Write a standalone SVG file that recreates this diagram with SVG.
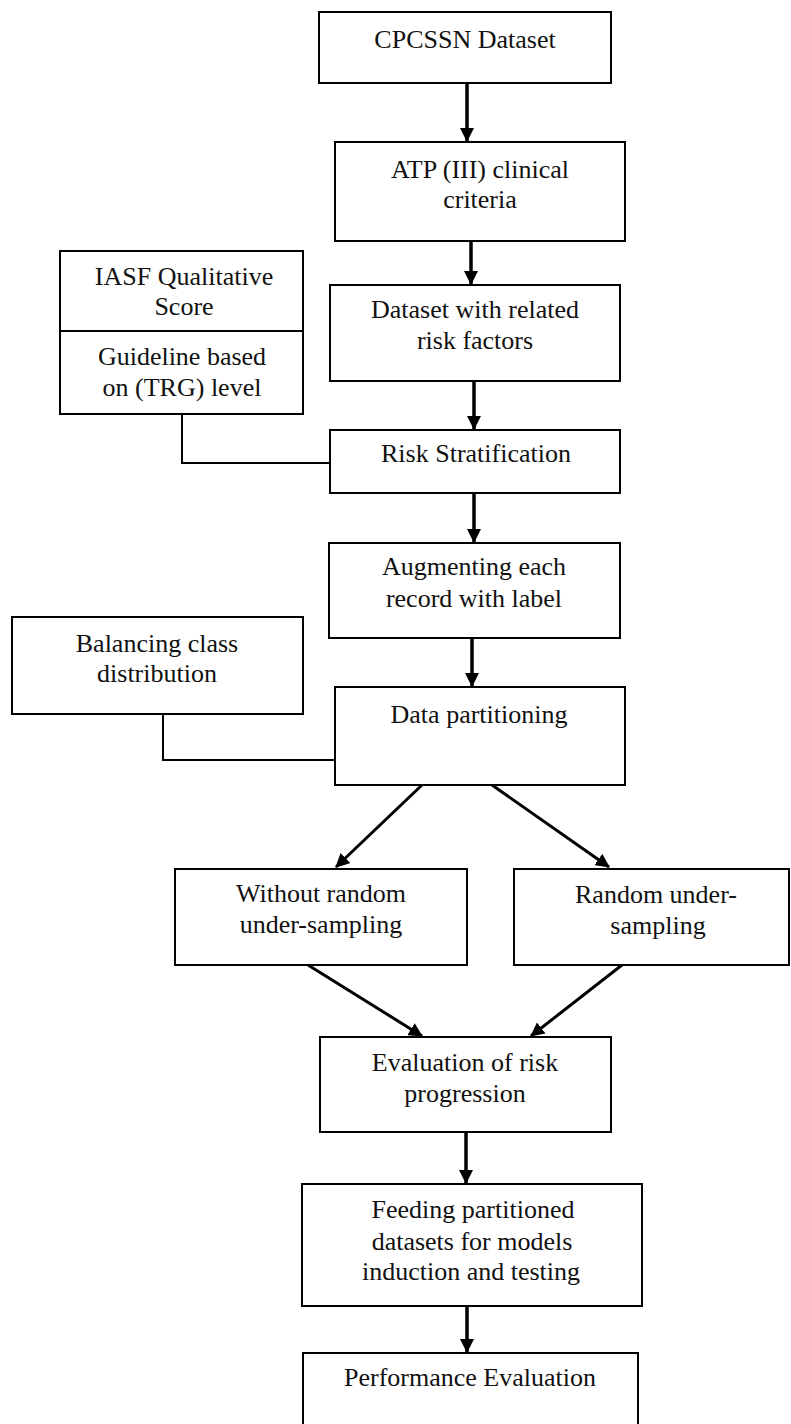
<svg xmlns="http://www.w3.org/2000/svg" width="791" height="1424" viewBox="0 0 791 1424">
<style>
.box{fill:#fff;stroke:#000;stroke-width:2}
.t{font-family:"Liberation Serif","Times New Roman",serif;font-size:26px;fill:#111;text-anchor:middle}
.arr{stroke:#000;stroke-width:3.5;fill:none}
.diag{stroke:#000;stroke-width:3;fill:none}
.link{stroke:#000;stroke-width:2;fill:none}
</style>
<defs>
<marker id="ah" viewBox="0 0 14 14" refX="13" refY="7" markerWidth="14" markerHeight="14" markerUnits="userSpaceOnUse" orient="auto">
<path d="M0,0 L14,7 L0,14 z" fill="#000"/>
</marker>
</defs>
<rect width="791" height="1424" fill="#fff"/>
<g id="connectors">
<line class="arr" x1="467" y1="83" x2="467" y2="141" marker-end="url(#ah)"/>
<line class="arr" x1="471" y1="241" x2="471" y2="284" marker-end="url(#ah)"/>
<line class="arr" x1="474" y1="381" x2="474" y2="429" marker-end="url(#ah)"/>
<line class="arr" x1="474" y1="493" x2="474" y2="542" marker-end="url(#ah)"/>
<line class="arr" x1="472" y1="638" x2="472" y2="686" marker-end="url(#ah)"/>
<line class="diag" x1="422" y1="785" x2="336" y2="867" marker-end="url(#ah)"/>
<line class="diag" x1="492" y1="785" x2="609" y2="867" marker-end="url(#ah)"/>
<line class="diag" x1="308" y1="965" x2="422" y2="1036" marker-end="url(#ah)"/>
<line class="diag" x1="622" y1="965" x2="531" y2="1036" marker-end="url(#ah)"/>
<line class="arr" x1="466" y1="1132" x2="466" y2="1183" marker-end="url(#ah)"/>
<line class="arr" x1="467" y1="1306" x2="467" y2="1352" marker-end="url(#ah)"/>
<polyline class="link" points="182,414 182,463 330,463"/>
<polyline class="link" points="163,714 163,760 335,760"/>
</g>
<g id="n-cpcssn">
<rect class="box" x="319" y="12" width="292" height="71"/>
<text class="t" x="465" y="48">CPCSSN Dataset</text>
</g>
<g id="n-atp">
<rect class="box" x="335" y="142" width="290" height="99"/>
<text class="t" x="480" y="178">ATP (III) clinical</text>
<text class="t" x="480" y="208">criteria</text>
</g>
<g id="n-iasf">
<rect class="box" x="60" y="251" width="243" height="163"/>
<line class="link" x1="60" y1="331" x2="303" y2="331"/>
<text class="t" x="184" y="285">IASF Qualitative</text>
<text class="t" x="184" y="315">Score</text>
<text class="t" x="182" y="365">Guideline based</text>
<text class="t" x="182" y="396">on (TRG) level</text>
</g>
<g id="n-dataset">
<rect class="box" x="330" y="285" width="290" height="96"/>
<text class="t" x="475" y="318">Dataset with related</text>
<text class="t" x="475" y="349">risk factors</text>
</g>
<g id="n-risk">
<rect class="box" x="330" y="430" width="290" height="63"/>
<text class="t" x="476" y="462">Risk Stratification</text>
</g>
<g id="n-augment">
<rect class="box" x="329" y="543" width="291" height="95"/>
<text class="t" x="474" y="575">Augmenting each</text>
<text class="t" x="474" y="607">record with label</text>
</g>
<g id="n-balancing">
<rect class="box" x="12" y="617" width="291" height="97"/>
<text class="t" x="157" y="652">Balancing class</text>
<text class="t" x="157" y="682">distribution</text>
</g>
<g id="n-partition">
<rect class="box" x="335" y="687" width="290" height="98"/>
<text class="t" x="479" y="723">Data partitioning</text>
</g>
<g id="n-without">
<rect class="box" x="175" y="869" width="292" height="96"/>
<text class="t" x="321" y="902">Without random</text>
<text class="t" x="321" y="933">under-sampling</text>
</g>
<g id="n-random">
<rect class="box" x="514" y="869" width="275" height="96"/>
<text class="t" x="656" y="903">Random under-</text>
<text class="t" x="658" y="934">sampling</text>
</g>
<g id="n-evaluation">
<rect class="box" x="320" y="1037" width="291" height="95"/>
<text class="t" x="465" y="1071">Evaluation of risk</text>
<text class="t" x="465" y="1102">progression</text>
</g>
<g id="n-feeding">
<rect class="box" x="302" y="1184" width="340" height="122"/>
<text class="t" x="473" y="1218">Feeding partitioned</text>
<text class="t" x="472" y="1250">datasets for models</text>
<text class="t" x="471" y="1280">induction and testing</text>
</g>
<g id="n-performance">
<rect class="box" x="303" y="1353" width="335" height="80"/>
<text class="t" x="470" y="1386">Performance Evaluation</text>
</g>
</svg>
